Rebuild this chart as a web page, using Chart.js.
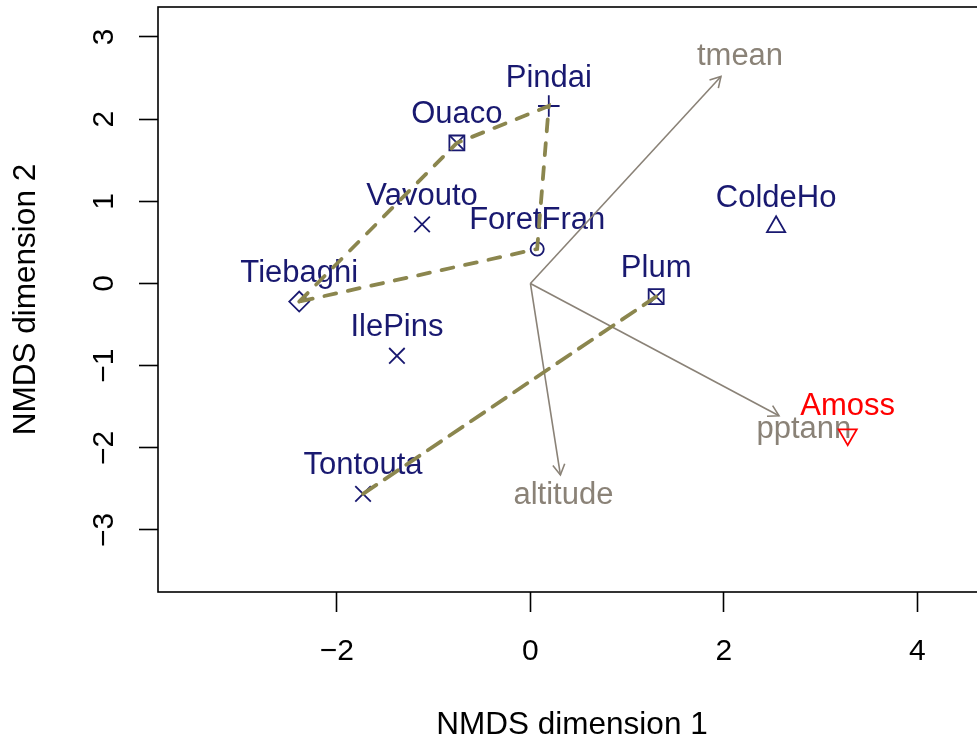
<!DOCTYPE html>
<html>
<head>
<meta charset="utf-8">
<script src="https://cdn.jsdelivr.net/npm/chart.js@4.4.1/dist/chart.umd.min.js"></script>
<style>
  html, body { margin: 0; padding: 0; background: #fff; overflow: hidden; }
  canvas { display: block; }
</style>
</head>
<body>
<canvas id="ord" width="1000" height="742"></canvas>
<script>
// site scores on the two NMDS axes
const siteNames = ['Pindai', 'Ouaco', 'Vavouto', 'ForetFran', 'Tiebaghi', 'IlePins', 'Tontouta', 'Plum', 'ColdeHo', 'Amoss'];
const nmds1 = [0.19, -0.76, -1.12, 0.07, -2.39, -1.38, -1.73, 1.30, 2.54, 3.28];
const nmds2 = [2.16, 1.71, 0.72, 0.42, -0.22, -0.88, -2.56, -0.16, 0.69, -1.84];
const siteSymbol = ['plus', 'boxX', 'x', 'circle', 'diamond', 'x', 'x', 'boxX', 'triUp', 'triDown'];

// hulls joining sites of the same group
const hullA = ['Tiebaghi', 'Ouaco', 'Pindai', 'ForetFran', 'Tiebaghi'];
const hullB = ['Tontouta', 'Plum'];

// fitted environmental vectors
const envNames = ['tmean', 'pptann', 'altitude'];
const envX = [1.97, 2.57, 0.31];
const envY = [2.52, -1.61, -2.33];

const xTicks = [-2, 0, 2, 4];
const yTicks = [-3, -2, -1, 0, 1, 2, 3];

const fam = '"Liberation Sans", Arial, Helvetica, sans-serif';
const navy = '#191970';
const envCol = '#8a8277';
const hullCol = '#8b864e';
const siteCol = siteNames.map(n => n === 'Amoss' ? '#ff0000' : navy);

const markers = {
  plus:    { style: 'cross',    r: 10.8, rot: 0 },
  x:       { style: 'crossRot', r: 11,   rot: 0 },
  boxX:    { style: 'rect',     r: 10.6, rot: 0 },
  circle:  { style: 'circle',   r: 6.6,  rot: 0 },
  diamond: { style: 'rectRot',  r: 10,   rot: 0 },
  triUp:   { style: 'triangle', r: 10.5, rot: 0 },
  triDown: { style: 'triangle', r: 10.5, rot: 180 }
};

Chart.defaults.font.family = fam;

const pt = name => {
  const i = siteNames.indexOf(name);
  return { x: nmds1[i], y: nmds2[i] };
};
const boxIdx = siteSymbol.map((s, i) => s === 'boxX' ? i : -1).filter(i => i >= 0);
const minus = v => (v < 0 ? '\u2212' + Math.abs(v) : String(v));

const datasets = [
  {
    type: 'scatter',
    data: siteNames.map((n, i) => ({ x: nmds1[i], y: nmds2[i] })),
    pointStyle: siteSymbol.map(s => markers[s].style),
    pointRadius: siteSymbol.map(s => markers[s].r),
    rotation: siteSymbol.map(s => markers[s].rot),
    borderColor: siteCol,
    backgroundColor: 'rgba(0,0,0,0)',
    borderWidth: 1.8,
    order: 2
  },
  {
    // diagonal cross inside the boxed symbols
    type: 'scatter',
    data: boxIdx.map(i => ({ x: nmds1[i], y: nmds2[i] })),
    pointStyle: 'crossRot',
    pointRadius: 10.6,
    borderColor: boxIdx.map(i => siteCol[i]),
    borderWidth: 1.8,
    order: 2
  }
];

[[hullA, [12, 12]], [hullB, [16, 10]]].forEach(([h, dash]) => {
  datasets.push({
    type: 'line',
    data: h.map(pt),
    borderColor: hullCol,
    borderWidth: 3.8,
    borderDash: dash,
    borderCapStyle: 'round',
    pointRadius: 0,
    fill: false,
    tension: 0,
    order: 1
  });
});

envNames.forEach((n, i) => {
  datasets.push({
    type: 'line',
    data: [{ x: 0, y: 0 }, { x: envX[i], y: envY[i] }],
    borderColor: envCol,
    borderWidth: 1.6,
    pointRadius: 0,
    fill: false,
    order: 3
  });
});

const extras = {
  id: 'extras',
  beforeDatasetsDraw(chart) {
    const ctx = chart.ctx, xs = chart.scales.x, ys = chart.scales.y;
    ctx.save();
    ctx.font = '31px ' + fam;
    ctx.textAlign = 'center';
    ctx.textBaseline = 'alphabetic';
    siteNames.forEach((n, i) => {
      ctx.fillStyle = siteCol[i];
      ctx.fillText(n, xs.getPixelForValue(nmds1[i]), ys.getPixelForValue(nmds2[i]) - 19.5);
    });
    ctx.fillStyle = envCol;
    envNames.forEach((n, i) => {
      ctx.fillText(n, xs.getPixelForValue(envX[i] * 1.1), ys.getPixelForValue(envY[i] * 1.1) + 9.5);
    });
    ctx.restore();
  },
  afterDatasetsDraw(chart) {
    // arrow heads on the vectors
    const ctx = chart.ctx, xs = chart.scales.x, ys = chart.scales.y;
    const x0 = xs.getPixelForValue(0), y0 = ys.getPixelForValue(0);
    ctx.save();
    ctx.strokeStyle = envCol;
    ctx.lineWidth = 1.6;
    envNames.forEach((n, i) => {
      const x1 = xs.getPixelForValue(envX[i]), y1 = ys.getPixelForValue(envY[i]);
      const a = Math.atan2(y1 - y0, x1 - x0);
      const len = 12, spread = Math.PI / 6;
      ctx.beginPath();
      ctx.moveTo(x1 - len * Math.cos(a - spread), y1 - len * Math.sin(a - spread));
      ctx.lineTo(x1, y1);
      ctx.lineTo(x1 - len * Math.cos(a + spread), y1 - len * Math.sin(a + spread));
      ctx.stroke();
    });
    ctx.restore();
  },
  afterDraw(chart) {
    const ctx = chart.ctx, a = chart.chartArea, ys = chart.scales.y;
    ctx.save();
    ctx.strokeStyle = '#000';
    ctx.lineWidth = 1.6;
    ctx.strokeRect(a.left, a.top, a.right - a.left, a.bottom - a.top);
    // y tick labels run parallel to the axis
    ctx.fillStyle = '#000';
    ctx.font = '30px ' + fam;
    ctx.textAlign = 'center';
    ctx.textBaseline = 'alphabetic';
    ys.ticks.forEach(t => {
      ctx.save();
      ctx.translate(113, ys.getPixelForValue(t.value));
      ctx.rotate(-Math.PI / 2);
      ctx.fillText(minus(t.value), 0, 0);
      ctx.restore();
    });
    ctx.restore();
  }
};

new Chart(document.getElementById('ord'), {
  data: { datasets },
  options: {
    responsive: false,
    animation: false,
    events: [],
    layout: { autoPadding: false, padding: { left: 0, top: 7, right: 14, bottom: 0 } },
    plugins: { legend: { display: false }, tooltip: { enabled: false } },
    scales: {
      x: {
        type: 'linear',
        min: -3.85,
        max: 4.71,
        afterBuildTicks: s => { s.ticks = xTicks.map(v => ({ value: v })); },
        afterFit: s => { s.height = 150; },
        ticks: {
          color: '#000',
          font: { size: 30 },
          padding: 22,
          autoSkip: false,
          maxRotation: 0,
          callback: v => minus(v)
        },
        grid: { drawOnChartArea: false, drawTicks: true, tickLength: 20, tickColor: '#000', tickWidth: 1.6 },
        border: { display: false },
        title: {
          display: true,
          text: 'NMDS dimension 1',
          color: '#000',
          font: { size: 31.5, lineHeight: 1 },
          padding: { top: 0, bottom: 1 }
        }
      },
      y: {
        type: 'linear',
        min: -3.755,
        max: 3.365,
        afterBuildTicks: s => { s.ticks = yTicks.map(v => ({ value: v })); },
        afterFit: s => { s.width = 158; },
        ticks: { display: false },
        grid: { drawOnChartArea: false, drawTicks: true, tickLength: 19, tickColor: '#000', tickWidth: 1.6 },
        border: { display: false },
        title: {
          display: true,
          text: 'NMDS dimension 2',
          color: '#000',
          font: { size: 31.5, lineHeight: 1 },
          padding: { top: 11, bottom: 0 }
        }
      }
    }
  },
  plugins: [extras]
});
</script>
</body>
</html>
